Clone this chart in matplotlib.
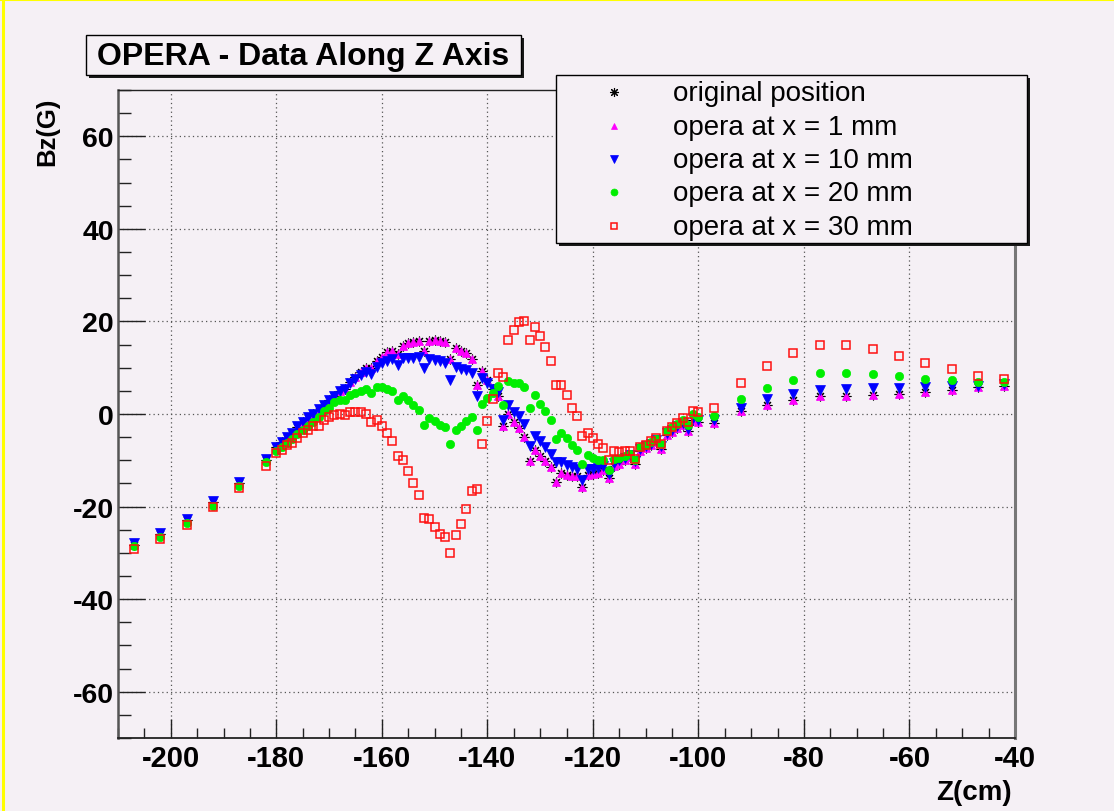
import matplotlib
matplotlib.use("Agg")
import matplotlib.pyplot as plt
from matplotlib.lines import Line2D
from matplotlib.patches import Rectangle
from matplotlib.ticker import MultipleLocator

plt.rcParams['font.family'] = ['Liberation Sans', 'DejaVu Sans']

# ---------------- data ----------------
z_cm = [-207, -202, -197, -192, -187, -182,
        -180, -179, -178, -177, -176, -175, -174, -173, -172, -171,
        -170, -169, -168, -167, -166, -165, -164, -163, -162, -161,
        -160, -159, -158, -157, -156, -155, -154, -153, -152, -151,
        -150, -149, -148, -147, -146, -145, -144, -143, -142, -141,
        -140, -139, -138, -137, -136, -135, -134, -133, -132, -131,
        -130, -129, -128, -127, -126, -125, -124, -123, -122, -121,
        -120, -119, -118, -117, -116, -115, -114, -113, -112, -111,
        -110, -109, -108, -107, -106, -105, -104, -103, -102, -101,
        -100,
        -97, -92, -87, -82, -77, -72, -67, -62, -57, -52, -47, -42]

bz_x1mm = [-28.3, -26.0, -23.0, -19.1, -14.9, -9.9,
           -7.1, -6.1, -5.25, -4.3, -2.9, -1.8, -0.8, 0.1, 0.7, 1.9,
           3.0, 3.9, 5.0, 5.4, 7.0, 8.0, 9.0, 9.9, 9.9, 11.5,
           12.4, 13.3, 13.7, 13.0, 14.7, 15.3, 15.6, 15.8, 13.7, 15.8,
           16.0, 15.8, 15.6, 11.8, 14.2, 13.7, 13.1, 11.9, 6.2, 9.2,
           7.4, 5.5, 3.8, -2.5, 0.1, -1.8, -3.1, -4.9, -10.1, -7.7,
           -9.0, -10.2, -11.5, -14.7, -12.7, -13.2, -13.4, -13.4, -15.8, -13.1,
           -13.0, -12.7, -12.2, -13.8, -11.2, -10.7, -9.9, -9.2, -10.7, -8.0,
           -7.4, -6.7, -6.0, -7.5, -4.6, -3.8, -3.0, -2.3, -3.6, -1.2,
           -1.8,
           -2.0, 0.7, 2.0, 3.0, 3.9, 3.95, 4.1, 4.3, 4.7, 5.25, 5.75, 6.1]

bz_original = [-28.3, -26.0, -23.0, -19.1, -14.9, -9.9,
               -7.1, -6.1, -5.25, -4.3, -2.9, -1.8, -0.8, 0.1, 0.7, 1.9,
               3.0, 3.9, 5.0, 5.4, 7.0, 8.0, 9.0, 9.9, 9.9, 11.5,
               12.4, 13.3, 13.7, 13.0, 14.7, 15.3, 15.6, 15.8, 13.7, 15.8,
               16.0, 15.8, 15.6, 11.8, 14.2, 13.7, 13.1, 11.9, 6.2, 9.2,
               7.4, 5.5, 3.8, -2.5, 0.1, -1.8, -3.1, -4.9, -10.1, -7.7,
               -9.0, -10.2, -11.5, -14.7, -12.7, -13.2, -13.4, -13.4, -15.8, -13.1,
               -13.0, -12.7, -12.2, -13.8, -11.2, -10.7, -9.9, -9.2, -10.7, -8.0,
               -7.4, -6.7, -6.0, -7.5, -4.6, -3.8, -3.0, -2.3, -3.6, -1.2,
               -1.8,
               -2.0, 0.7, 2.0, 3.0, 3.9, 3.95, 4.1, 4.3, 4.7, 5.25, 5.75, 6.1]

bz_x10mm = [-27.9, -25.7, -22.7, -18.8, -14.6, -9.7,
            -7.05, -6.0, -4.9, -4.0, -2.7, -1.65, -0.6, 0.1, 1.1, 2.0,
            3.0, 3.95, 4.9, 5.4, 6.6, 7.6, 8.4, 9.0, 8.6, 10.2,
            11.1, 11.5, 11.9, 10.6, 12.2, 12.2, 12.2, 12.4, 9.9, 11.9,
            11.7, 11.5, 11.1, 7.3, 10.1, 9.7, 9.4, 8.8, 3.8, 7.8,
            6.7, 5.5, 4.7, -1.2, 1.9, 0.4, -0.5, -2.2, -7.0, -4.7,
            -5.9, -7.2, -8.6, -10.3, -10.4, -11.0, -11.5, -11.8, -14.2, -11.9,
            -11.9, -11.6, -11.3, -13.0, -10.6, -10.0, -9.4, -8.8, -10.2, -7.6,
            -7.0, -6.4, -5.7, -7.0, -4.2, -3.4, -2.6, -1.9, -3.2, -0.8,
            -1.2,
            -1.4, 1.3, 3.2, 4.4, 5.25, 5.4, 5.54, 5.54, 5.75, 5.97, 6.1, 6.4]

bz_x20mm = [-28.6, -26.5, -23.6, -19.9, -15.5, -10.3,
            -7.9, -7.2, -6.3, -5.4, -4.3, -3.5, -2.5, -1.65, -0.7, 0.6,
            1.4, 2.5, 3.1, 3.0, 4.1, 4.5, 5.0, 5.4, 4.5, 5.75,
            5.75, 5.4, 4.9, 3.0, 3.8, 3.1, 2.0, 0.9, -2.3, -0.9,
            -1.6, -2.3, -2.8, -6.4, -3.4, -2.7, -1.6, -0.7, -3.4, 2.2,
            3.4, 4.6, 6.0, 2.0, 7.2, 6.8, 6.8, 5.9, 1.2, 4.0,
            2.2, 0.7, -1.2, -5.4, -4.1, -5.25, -6.6, -7.7, -10.8, -8.85,
            -9.5, -9.9, -9.9, -12.0, -9.7, -9.6, -9.0, -8.6, -9.9, -7.2,
            -6.8, -6.1, -5.4, -6.5, -3.7, -2.9, -2.1, -1.4, -2.4, -0.1,
            -0.6,
            -0.4, 3.2, 5.7, 7.4, 8.85, 8.85, 8.7, 8.13, 7.55, 7.3, 7.0, 6.83]

bz_x30mm = [-29.1, -27.0, -24.0, -20.2, -16.0, -11.2,
            -8.5, -7.8, -6.8, -6.3, -5.25, -4.2, -3.5, -2.5, -2.5, -1.3,
            -0.7, -0.2, 0.0, -0.2, 0.36, 0.36, 0.36, 0.0, -1.65, -1.4,
            -2.7, -4.2, -5.8, -9.1, -9.85, -12.4, -14.8, -17.4, -22.5, -22.7,
            -24.5, -25.9, -26.6, -30.0, -26.1, -23.7, -20.5, -16.6, -16.2, -6.5,
            -1.6, 3.2, 8.8, 8.1, 16.0, 18.2, 19.9, 20.1, 16.0, 18.8,
            16.9, 14.5, 11.5, 6.3, 6.3, 4.0, 1.4, -0.5, -4.7, -4.1,
            -5.25, -6.5, -7.3, -9.9, -8.1, -8.3, -7.9, -7.9, -9.7, -7.2,
            -6.8, -5.75, -5.25, -6.5, -3.6, -2.9, -1.9, -0.9, -1.8, 0.7,
            0.4,
            1.4, 6.6, 10.4, 13.1, 14.96, 14.96, 14.03, 12.5, 11.0, 9.64, 8.27, 7.55]

series_labels = ["original position", "opera at x = 1 mm", "opera at x = 10 mm",
                 "opera at x = 20 mm", "opera at x = 30 mm"]
x_ticks = [-200, -180, -160, -140, -120, -100, -80, -60, -40]
y_ticks = [-60, -40, -20, 0, 20, 40, 60]
title_text = "OPERA - Data Along Z Axis"
x_label = "Z(cm)"
y_label = "Bz(G)"

# ---------------- figure ----------------
W, H = 1114, 812
BG = '#f5f0f5'
fig = plt.figure(figsize=(W / 100, H / 100), dpi=100)
fig.patch.set_facecolor(BG)


def fx(px):
    return px / W


def fy(py):
    return 1 - py / H


ax = fig.add_axes([fx(118), fy(739), fx(1015) - fx(118), fy(91) - fy(739)])
ax.set_facecolor(BG)

styles = [
    dict(marker=(8, 2, 0), ms=7.0, color='black', mec='black', mew=0.8),
    dict(marker='^', ms=5.8, color='#ff00ff', mec='#ff00ff', mew=0.5),
    dict(marker='v', ms=6.5, color='#0000ff', mec='#0000ff', mew=0.5),
    dict(marker='o', ms=6.0, color='#00ee00', mec='#00ee00', mew=0.5),
    dict(marker='s', ms=6.3, mfc='none', mec='#ff1010', mew=1.1, color='#ff1010'),
]
all_series = [bz_original, bz_x1mm, bz_x10mm, bz_x20mm, bz_x30mm]
for vals, st in zip(all_series, styles):
    ax.plot(z_cm, vals, ls='none', **st)

ax.set_xlim(-210, -40)
ax.set_ylim(-70, 70)
ax.set_xticks(x_ticks, [str(t) for t in x_ticks], fontweight='bold', fontsize=21)
ax.set_yticks(y_ticks, [str(t) for t in y_ticks], fontweight='bold', fontsize=20.5)
ax.xaxis.set_minor_locator(MultipleLocator(5))
ax.yaxis.set_minor_locator(MultipleLocator(5))
ax.tick_params(which='both', direction='in', top=False, right=False, colors='#222')
ax.tick_params(axis='x', which='major', length=14, width=1.0, pad=4, labelcolor='black')
ax.tick_params(axis='x', which='minor', length=7, width=1.0)
ax.tick_params(axis='y', which='major', length=19.5, width=1.0, pad=3, labelcolor='black')
ax.tick_params(axis='y', which='minor', length=9.7, width=1.0)
ax.grid(True, which='major', ls=(0, (1, 2.5)), color='#555555', lw=0.9)
ax.set_axisbelow(True)

ax.spines['top'].set_color('#222222')
ax.spines['top'].set_linewidth(1.0)
ax.spines['bottom'].set_color('#222222')
ax.spines['bottom'].set_linewidth(1.3)
ax.spines['left'].set_color('#555555')
ax.spines['left'].set_linewidth(1.8)
ax.spines['right'].set_color('#777777')
ax.spines['right'].set_linewidth(2.2)

# axis titles
fig.text(fx(1012), fy(793), x_label, ha='right', va='center', fontsize=20, fontweight='bold')
fig.text(fx(47), fy(98), y_label, ha='center', va='top', rotation=90, fontsize=18.5, fontweight='bold')


def box(x0, y0, x1, y1, shadow=3):
    fig.add_artist(Rectangle((fx(x0 + shadow), fy(y1 + shadow)), fx(x1 - x0), fy(y0) - fy(y1),
                             transform=fig.transFigure, facecolor='#1a1a1a', edgecolor='none', zorder=5))
    fig.add_artist(Rectangle((fx(x0), fy(y1)), fx(x1 - x0), fy(y0) - fy(y1),
                             transform=fig.transFigure, facecolor=BG, edgecolor='black', lw=1.0, zorder=6))


# title box
box(86, 36, 521, 76)
fig.text(fx(303.5), fy(57), title_text, ha='center', va='center', fontsize=23, fontweight='bold', zorder=7)

# legend box
box(556, 76, 1027, 244)
row_y = [93.3, 126.7, 160.0, 193.3, 226.7]
leg_ms = [6.5, 5.0, 5.3, 5.0, 5.0]
for lab, st, yy, ms in zip(series_labels, styles, row_y, leg_ms):
    st2 = dict(st)
    st2['ms'] = ms
    fig.add_artist(Line2D([fx(614)], [fy(yy)], transform=fig.transFigure, ls='none', zorder=7, **st2))
    fig.text(fx(673), fy(yy + 1), lab, ha='left', va='center', fontsize=20, zorder=7)

# yellow canvas border (left and top)
fig.add_artist(Line2D([fx(2.5), fx(2.5)], [0, 1], transform=fig.transFigure, color='#ffff00', lw=2.2))
fig.add_artist(Line2D([0, 1], [fy(1), fy(1)], transform=fig.transFigure, color='#ffff00', lw=1.5))

fig.savefig('out.png', dpi=100, facecolor=BG)
